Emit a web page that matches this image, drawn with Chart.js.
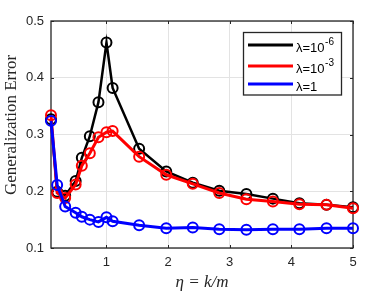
<!DOCTYPE html>
<html>
<head>
<meta charset="utf-8">
<script src="https://cdn.jsdelivr.net/npm/chart.js@4.4.1/dist/chart.umd.min.js"></script>
<style>
  html, body { margin: 0; padding: 0; background: #ffffff; }
  #wrap { width: 390px; height: 293px; position: relative; }
</style>
</head>
<body>
<div id="wrap"><canvas id="c" width="390" height="293"></canvas></div>
<script>
// ---- data ----
const etaValues = [0.1, 0.2, 0.33, 0.5, 0.6, 0.73, 0.87, 1.0, 1.1, 1.53, 1.97, 2.4, 2.83, 3.27, 3.7, 4.13, 4.57, 5.0];
const errLambda1e6 = [0.327, 0.199, 0.192, 0.218, 0.259, 0.297, 0.357, 0.462, 0.382, 0.275, 0.235, 0.215, 0.201, 0.195, 0.187, 0.179, 0.176, 0.172];
const errLambda1e3 = [0.334, 0.197, 0.188, 0.212, 0.245, 0.267, 0.295, 0.304, 0.306, 0.261, 0.229, 0.213, 0.197, 0.186, 0.182, 0.177, 0.176, 0.170];
const errLambda1   = [0.324, 0.211, 0.173, 0.162, 0.155, 0.150, 0.146, 0.154, 0.147, 0.140, 0.135, 0.136, 0.133, 0.132, 0.133, 0.133, 0.135, 0.135];
const seriesBase = ['\u03bb=10', '\u03bb=10', '\u03bb=1'];
const seriesExp = ['-6', '-3', ''];
const xTickValues = [1, 2, 3, 4, 5];
const yTickValues = [0.1, 0.2, 0.3, 0.4, 0.5];
const xTitle = '\u03b7 = k/m';
const yTitle = 'Generalization Error';

const toPts = (ys) => etaValues.map((x, i) => ({ x: x, y: ys[i] }));
const colors = ['#000000', '#ff0000', '#0000ff'];
const axisColor = '#262626';
const tickFont = { family: '"Liberation Sans", Arial, sans-serif', size: 13 };

function ds(label, data, color, lw, order) {
  return {
    label, data: toPts(data), borderColor: color, backgroundColor: color,
    borderWidth: lw, pointRadius: 5, pointBorderWidth: 2,
    pointBackgroundColor: 'rgba(0,0,0,0)', pointBorderColor: color,
    tension: 0, clip: false, order
  };
}

const framePlugin = {
  id: 'frame',
  beforeDatasetsDraw(chart) {
    const { ctx, chartArea: a, scales } = chart;
    ctx.save();
    ctx.strokeStyle = axisColor;
    ctx.lineWidth = 1.3;
    ctx.strokeRect(a.left, a.top, a.right - a.left, a.bottom - a.top);
    ctx.lineWidth = 1;
    xTickValues.forEach(v => {
      const px = Math.round(scales.x.getPixelForValue(v)) + 0.5;
      ctx.beginPath();
      ctx.moveTo(px, a.bottom); ctx.lineTo(px, a.bottom - 3);
      ctx.moveTo(px, a.top); ctx.lineTo(px, a.top + 3);
      ctx.stroke();
    });
    yTickValues.forEach(v => {
      const py = Math.round(scales.y.getPixelForValue(v)) + 0.5;
      ctx.beginPath();
      ctx.moveTo(a.left, py); ctx.lineTo(a.left + 3, py);
      ctx.moveTo(a.right, py); ctx.lineTo(a.right - 3, py);
      ctx.stroke();
    });
    ctx.restore();
  },
  afterDraw(chart) {
    const { ctx } = chart;
    ctx.save();
    // y-axis title
    ctx.translate(12, 125);
    ctx.rotate(-Math.PI / 2);
    ctx.fillStyle = axisColor;
    ctx.font = '17px "Liberation Serif", "Times New Roman", serif';
    ctx.textAlign = 'center';
    ctx.textBaseline = 'middle';
    ctx.fillText(yTitle, 0, 0);
    ctx.restore();

    // legend box
    ctx.save();
    const bx = 243.5, by = 32.5, bw = 98, bh = 62.5;
    ctx.fillStyle = '#ffffff';
    ctx.fillRect(bx, by, bw, bh);
    ctx.strokeStyle = '#262626';
    ctx.lineWidth = 1.3;
    ctx.strokeRect(bx, by, bw, bh);
    const rows = [45, 66, 84];
    ctx.textBaseline = 'middle';
    ctx.textAlign = 'left';
    chart.data.datasets.forEach((d, i) => {
      const y = rows[i];
      ctx.strokeStyle = colors[i];
      ctx.lineWidth = 3;
      ctx.beginPath();
      ctx.moveTo(248, y); ctx.lineTo(293, y);
      ctx.stroke();
      ctx.fillStyle = '#000000';
      ctx.font = '13px "Liberation Sans", Arial, sans-serif';
      const t = seriesBase[i];
      ctx.fillText(t, 296, y + 3);
      const w = ctx.measureText(t).width;
      if (seriesExp[i]) {
        ctx.font = '10px "Liberation Sans", Arial, sans-serif';
        ctx.fillText(seriesExp[i], 296 + w + 0.5, y - 3);
      }
    });
    ctx.restore();
  }
};

new Chart(document.getElementById('c'), {
  type: 'line',
  data: {
    datasets: [
      ds(seriesBase[0] + seriesExp[0], errLambda1e6, colors[0], 2.5, 3),
      ds(seriesBase[1] + seriesExp[1], errLambda1e3, colors[1], 3, 2),
      ds(seriesBase[2], errLambda1, colors[2], 3, 1)
    ]
  },
  options: {
    responsive: false,
    animation: false,
    devicePixelRatio: 1,
    layout: { padding: { top: 21, right: 37, left: 0, bottom: 0 } },
    plugins: { legend: { display: false }, tooltip: { enabled: false } },
    scales: {
      x: {
        type: 'linear', min: 0.1, max: 5,
        afterBuildTicks: (s) => { s.ticks = xTickValues.map(v => ({ value: v })); },
        afterFit: (s) => { s.height = 45; },
        grid: { color: '#e3e3e3', lineWidth: 1, drawTicks: false },
        border: { display: false },
        ticks: { color: axisColor, font: tickFont, padding: 7, maxRotation: 0,
                 callback: (v) => String(v) },
        title: { display: true, text: xTitle, color: axisColor,
                 font: { family: '"Liberation Serif", "Times New Roman", serif', size: 17, style: 'italic' },
                 padding: { top: 0, bottom: 0 } }
      },
      y: {
        type: 'linear', min: 0.1, max: 0.5,
        afterBuildTicks: (s) => { s.ticks = yTickValues.map(v => ({ value: v })); },
        afterFit: (s) => { s.width = 51; },
        grid: { color: '#e3e3e3', lineWidth: 1, drawTicks: false },
        border: { display: false },
        ticks: { color: axisColor, font: tickFont, padding: 7,
                 callback: (v) => v.toFixed(1) }
      }
    }
  },
  plugins: [framePlugin]
});
</script>
</body>
</html>
